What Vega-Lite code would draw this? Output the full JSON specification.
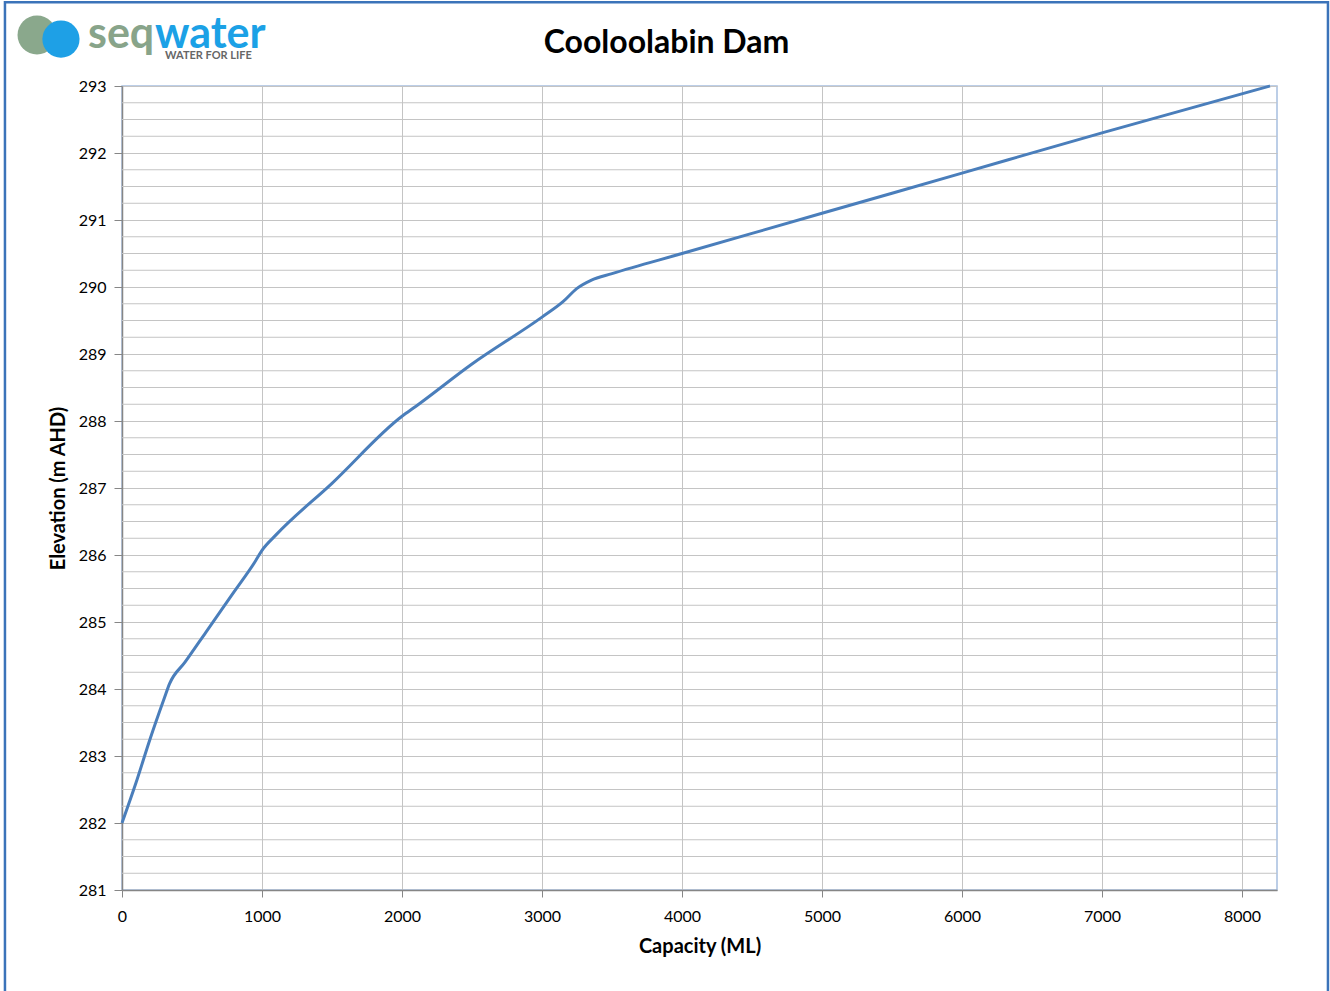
{
  "$schema": "https://vega.github.io/schema/vega-lite/v6.json",
  "width": 1155,
  "height": 804,
  "autosize": "none",
  "padding": {"left": 122, "top": 86, "right": 53, "bottom": 101},
  "background": "white",
  "title": {"text": "Cooloolabin Dam", "fontSize": 32, "font": "Lato", "fontWeight": "bold", "color": "#000000", "anchor": "middle", "dx": -33, "offset": 0, "dy": 84, "baseline": "alphabetic"},
  "config": {"view": {"stroke": "#a6bfdf", "strokeWidth": 1.5}},
  "layer": [
    {
      "data": {"values": [
        {"g": 281.25}, {"g": 281.5}, {"g": 281.75},
        {"g": 282.25}, {"g": 282.5}, {"g": 282.75},
        {"g": 283.25}, {"g": 283.5}, {"g": 283.75},
        {"g": 284.25}, {"g": 284.5}, {"g": 284.75},
        {"g": 285.25}, {"g": 285.5}, {"g": 285.75},
        {"g": 286.25}, {"g": 286.5}, {"g": 286.75},
        {"g": 287.25}, {"g": 287.5}, {"g": 287.75},
        {"g": 288.25}, {"g": 288.5}, {"g": 288.75},
        {"g": 289.25}, {"g": 289.5}, {"g": 289.75},
        {"g": 290.25}, {"g": 290.5}, {"g": 290.75},
        {"g": 291.25}, {"g": 291.5}, {"g": 291.75},
        {"g": 292.25}, {"g": 292.5}, {"g": 292.75}
      ]},
      "mark": {"type": "rule", "color": "#c4c4c4", "strokeWidth": 1},
      "encoding": {
        "y": {"field": "g", "type": "quantitative", "title": "Elevation (m AHD)", "scale": {"domain": [281, 293], "nice": false, "zero": false}}
      }
    },
    {
      "data": {"values": [
        {"capacity": 0, "elevation": 282.0},
        {"capacity": 100, "elevation": 282.6},
        {"capacity": 200, "elevation": 283.25},
        {"capacity": 300, "elevation": 283.85},
        {"capacity": 340, "elevation": 284.08},
        {"capacity": 450, "elevation": 284.4},
        {"capacity": 600, "elevation": 284.85},
        {"capacity": 800, "elevation": 285.45},
        {"capacity": 950, "elevation": 285.9},
        {"capacity": 1000, "elevation": 286.07},
        {"capacity": 1100, "elevation": 286.3},
        {"capacity": 1500, "elevation": 287.07},
        {"capacity": 2000, "elevation": 288.07},
        {"capacity": 2100, "elevation": 288.22},
        {"capacity": 2500, "elevation": 288.85},
        {"capacity": 3000, "elevation": 289.55},
        {"capacity": 3150, "elevation": 289.78},
        {"capacity": 3250, "elevation": 289.98},
        {"capacity": 3350, "elevation": 290.1},
        {"capacity": 3500, "elevation": 290.2},
        {"capacity": 4000, "elevation": 290.5},
        {"capacity": 5000, "elevation": 291.1},
        {"capacity": 6000, "elevation": 291.7},
        {"capacity": 7000, "elevation": 292.3},
        {"capacity": 8200, "elevation": 293.0}
      ]},
      "mark": {"type": "line", "color": "#4a7ebb", "strokeWidth": 3, "interpolate": "monotone"},
      "encoding": {
        "x": {"field": "capacity", "type": "quantitative", "title": "Capacity (ML)", "scale": {"domain": [0, 8250], "nice": false, "zero": false},
          "axis": {"values": [0, 1000, 2000, 3000, 4000, 5000, 6000, 7000, 8000], "format": "d", "grid": true, "gridColor": "#c4c4c4", "gridOpacity": 1,
            "domainColor": "#868686", "domainWidth": 1.5, "tickColor": "#868686", "tickSize": 7, "labelFont": "Lato", "labelFontSize": 16,
            "labelColor": "#000000", "labelPadding": 11, "labelFlush": false, "titleFont": "Lato", "titleFontSize": 20,
            "titleFontWeight": "bold", "titleColor": "#000000", "titlePadding": 12}},
        "y": {"field": "elevation", "type": "quantitative", "title": "Elevation (m AHD)", "scale": {"domain": [281, 293], "nice": false, "zero": false},
          "axis": {"values": [281, 282, 283, 284, 285, 286, 287, 288, 289, 290, 291, 292, 293], "format": "d", "grid": true, "gridColor": "#c4c4c4", "gridOpacity": 1,
            "domainColor": "#868686", "domainWidth": 1.5, "tickColor": "#868686", "tickSize": 8, "labelFont": "Lato", "labelFontSize": 16,
            "labelColor": "#000000", "labelPadding": 8, "titleFont": "Lato", "titleFontSize": 20,
            "titleFontWeight": "bold", "titleColor": "#000000", "titlePadding": 10}}
      }
    },
    {
      "data": {"values": [{}]},
      "mark": {"type": "rect", "filled": false, "stroke": "#3b73b9", "strokeWidth": 2.5},
      "encoding": {
        "x": {"datum": -836, "type": "quantitative", "title": "Capacity (ML)", "scale": {"domain": [0, 8250], "nice": false, "zero": false}},
        "x2": {"datum": 8614},
        "y": {"datum": 294.25, "type": "quantitative", "title": "Elevation (m AHD)", "scale": {"domain": [281, 293], "nice": false, "zero": false}},
        "y2": {"datum": 278}
      }
    },
    {
      "data": {"values": [{}]},
      "mark": {"type": "point", "filled": true, "shape": "circle", "color": "#8aa88c", "opacity": 1, "size": 1520},
      "encoding": {
        "x": {"datum": -607, "type": "quantitative", "title": "Capacity (ML)", "scale": {"domain": [0, 8250], "nice": false, "zero": false}},
        "y": {"datum": 293.761, "type": "quantitative", "title": "Elevation (m AHD)", "scale": {"domain": [281, 293], "nice": false, "zero": false}}
      }
    },
    {
      "data": {"values": [{}]},
      "mark": {"type": "point", "filled": true, "shape": "circle", "color": "#1ea0e6", "opacity": 1, "size": 1385},
      "encoding": {
        "x": {"datum": -436, "type": "quantitative", "title": "Capacity (ML)", "scale": {"domain": [0, 8250], "nice": false, "zero": false}},
        "y": {"datum": 293.701, "type": "quantitative", "title": "Elevation (m AHD)", "scale": {"domain": [281, 293], "nice": false, "zero": false}}
      }
    },
    {
      "data": {"values": [{}]},
      "mark": {"type": "text", "text": "seq", "font": "Lato", "fontSize": 43, "fontWeight": "bold", "color": "#88a48a", "align": "left", "baseline": "alphabetic"},
      "encoding": {
        "x": {"datum": -243, "type": "quantitative", "title": "Capacity (ML)", "scale": {"domain": [0, 8250], "nice": false, "zero": false}},
        "y": {"datum": 293.567, "type": "quantitative", "title": "Elevation (m AHD)", "scale": {"domain": [281, 293], "nice": false, "zero": false}}
      }
    },
    {
      "data": {"values": [{}]},
      "mark": {"type": "text", "text": "water", "font": "Lato", "fontSize": 43, "fontWeight": "bold", "color": "#1ba1e6", "align": "left", "baseline": "alphabetic"},
      "encoding": {
        "x": {"datum": 236, "type": "quantitative", "title": "Capacity (ML)", "scale": {"domain": [0, 8250], "nice": false, "zero": false}},
        "y": {"datum": 293.567, "type": "quantitative", "title": "Elevation (m AHD)", "scale": {"domain": [281, 293], "nice": false, "zero": false}}
      }
    },
    {
      "data": {"values": [{}]},
      "mark": {"type": "text", "text": "WATER FOR LIFE", "font": "Lato", "fontSize": 11, "fontWeight": "bold", "color": "#666666", "align": "left", "baseline": "alphabetic"},
      "encoding": {
        "x": {"datum": 307, "type": "quantitative", "title": "Capacity (ML)", "scale": {"domain": [0, 8250], "nice": false, "zero": false}},
        "y": {"datum": 293.4, "type": "quantitative", "title": "Elevation (m AHD)", "scale": {"domain": [281, 293], "nice": false, "zero": false}}
      }
    }
  ]
}
